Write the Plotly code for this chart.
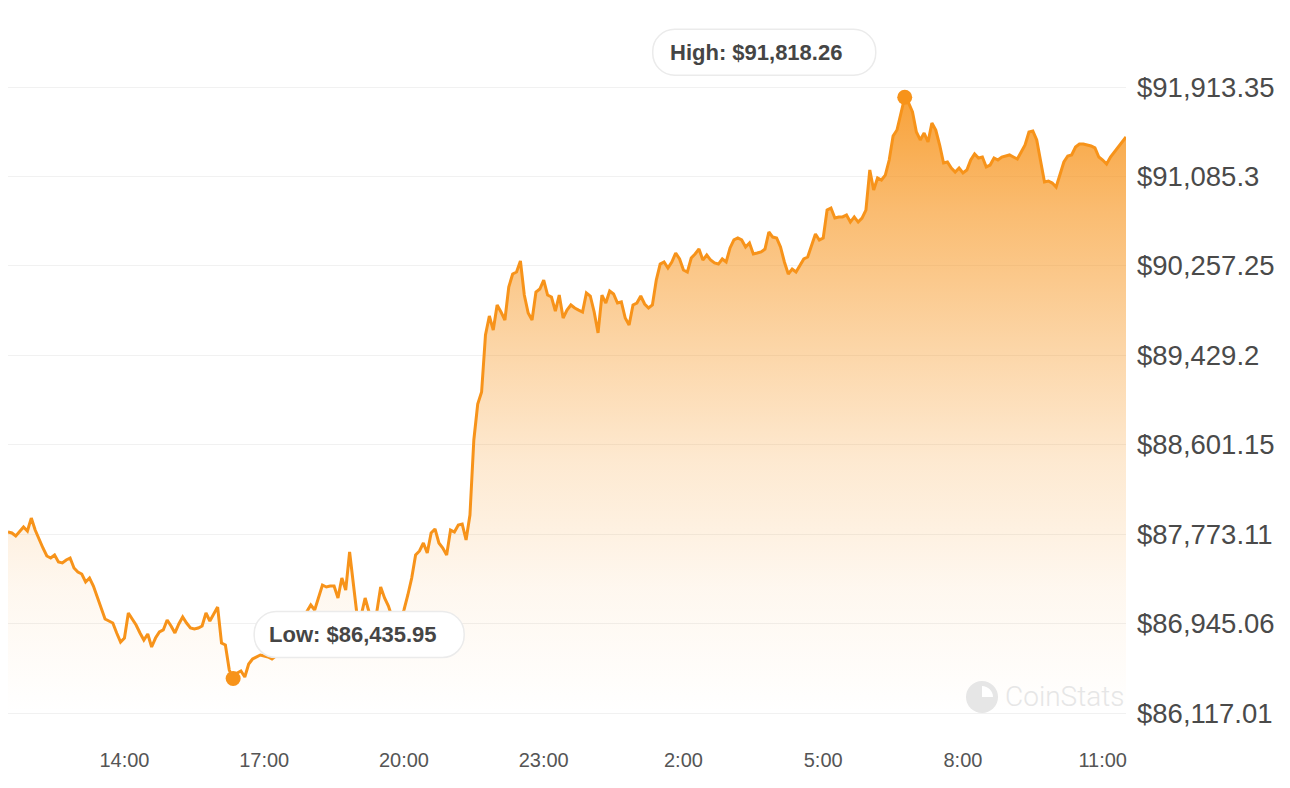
import pandas as pd
import plotly.graph_objects as go

# ---------------- data ----------------
start_time = "2025-03-03 11:30"
step_minutes = 5

prices = [
    87793, 87784, 87756, 87793, 87839, 87802, 87922, 87811, 87719, 87645,
    87571, 87552, 87580, 87515, 87506, 87534, 87552, 87460, 87423, 87404,
    87330, 87367, 87293, 87191, 87089, 86987, 86969, 86950, 86858, 86774,
    86811, 87043, 86987, 86932, 86858, 86793, 86848, 86728, 86811, 86867,
    86886, 86978, 86923, 86858, 86941, 87006, 86950, 86904, 86895, 86904,
    86923, 87043, 86969, 87034, 87098, 86765, 86747, 86515, 86435.95, 86487,
    86506, 86450, 86571, 86617, 86636, 86654, 86645, 86636, 86617, 86645,
    86700, 86737, 86793, 86830, 86886, 86932, 86997, 87052, 87117, 87071,
    87182, 87302, 87284, 87293, 87293, 87182, 87367, 87256, 87608, 87302,
    86997, 87024, 87182, 87052, 86997, 87052, 87284, 87182, 87108, 86997,
    86932, 86978, 87071, 87210, 87367, 87580, 87617, 87691, 87598, 87784,
    87821, 87691, 87645, 87580, 87811, 87793, 87858, 87867, 87719, 87950,
    88645, 88978, 89089, 89617, 89793, 89663, 89895, 89830, 89756, 90061,
    90182, 90200, 90302, 89987, 89821, 89756, 90015, 90043, 90126, 89987,
    89969, 89839, 89987, 89774, 89848, 89895, 89867, 89848, 89830, 90006,
    89978, 89830, 89636, 89987, 89913, 90024, 89997, 89913, 89923, 89774,
    89710, 89895, 89913, 89978, 89904, 89867, 89895, 90126, 90274, 90293,
    90237, 90293, 90376, 90321, 90219, 90200, 90330, 90367, 90413, 90311,
    90358, 90311, 90284, 90274, 90321, 90293, 90423, 90497, 90515, 90497,
    90432, 90469, 90367, 90376, 90386, 90413, 90571, 90524, 90515, 90432,
    90293, 90182, 90228, 90200, 90265, 90321, 90339, 90450, 90552, 90497,
    90515, 90774, 90793, 90700, 90710, 90710, 90728, 90663, 90710, 90663,
    90700, 90774, 91145, 90960, 91071, 91052, 91098, 91237, 91460, 91515,
    91682, 91818.26, 91765, 91682, 91497, 91423, 91487, 91404, 91580, 91515,
    91376, 91210, 91219, 91163, 91126, 91163, 91117, 91145, 91237, 91293,
    91256, 91265, 91173, 91191, 91256, 91237, 91265, 91274, 91284, 91265,
    91247, 91312, 91376, 91497, 91506, 91423, 91237, 91034, 91043, 91024,
    90987, 91098, 91219, 91274, 91284, 91358, 91386, 91386, 91376, 91367,
    91349, 91265, 91237, 91200, 91265, 91312, 91358, 91395, 91450,
]

y_tick_values = [86117.01, 86945.06, 87773.11, 88601.15, 89429.2,
                 90257.25, 91085.3, 91913.35]
y_tick_labels = ["$86,117.01", "$86,945.06", "$87,773.11", "$88,601.15",
                 "$89,429.2", "$90,257.25", "$91,085.3", "$91,913.35"]

x_tick_times = ["2025-03-03 14:00", "2025-03-03 17:00", "2025-03-03 20:00",
                "2025-03-03 23:00", "2025-03-04 02:00", "2025-03-04 05:00",
                "2025-03-04 08:00", "2025-03-04 11:00"]
x_tick_labels = ["14:00", "17:00", "20:00", "23:00", "2:00", "5:00",
                 "8:00", "11:00"]

# ---------------- derived ----------------
times = pd.date_range(start_time, periods=len(prices), freq=f"{step_minutes}min")
s = pd.Series(prices, index=times)
t_high, v_high = s.idxmax(), s.max()
t_low, v_low = s.idxmin(), s.min()

# small padding so the edge gridlines are kept by plotly
y_pad = (y_tick_values[-1] - y_tick_values[0]) / 7 * 2 / 89.4
y_lo, y_hi = y_tick_values[0] - y_pad, y_tick_values[-1] + y_pad


def x_paper(t):
    return (t - times[0]) / (times[-1] - times[0])


def y_paper(v):
    return (v - y_lo) / (y_hi - y_lo)


ORANGE = "#F7931A"
ORANGE_RGB = "247,147,26"

fig = go.Figure()

fig.add_trace(go.Scatter(
    x=times, y=prices, mode="lines",
    line=dict(color=ORANGE, width=3),
    fill="tozeroy",
    fillgradient=dict(
        type="vertical",
        start=y_tick_values[0], stop=y_tick_values[-1],
        colorscale=[
            [0.0, f"rgba({ORANGE_RGB},0.0)"],
            [0.2, f"rgba({ORANGE_RGB},0.07)"],
            [0.4, f"rgba({ORANGE_RGB},0.2)"],
            [0.6, f"rgba({ORANGE_RGB},0.4)"],
            [0.8, f"rgba({ORANGE_RGB},0.62)"],
            [1.0, f"rgba({ORANGE_RGB},0.88)"],
        ],
    ),
    hoverinfo="skip",
))

fig.add_trace(go.Scatter(
    x=[t_high, t_low], y=[v_high, v_low], mode="markers",
    marker=dict(color=ORANGE, size=15),
    cliponaxis=False, hoverinfo="skip",
))


def pill(x0, x1, y0, y1, r):
    k = 0.5523 * r
    return (f"M{x0+r},{y0} L{x1-r},{y0} "
            f"C{x1-r+k},{y0} {x1},{y0+r-k} {x1},{y0+r} "
            f"L{x1},{y1-r} C{x1},{y1-r+k} {x1-r+k},{y1} {x1-r},{y1} "
            f"L{x0+r},{y1} C{x0+r-k},{y1} {x0},{y1-r+k} {x0},{y1-r} "
            f"L{x0},{y0+r} C{x0},{y0+r-k} {x0+r-k},{y0} {x0+r},{y0} Z")


box_style = dict(type="path", xref="paper", yref="paper", xsizemode="pixel",
                 ysizemode="pixel", fillcolor="white",
                 line=dict(color="#ebebeb", width=1.5), layer="above")

fig.add_shape(**box_style, xanchor=x_paper(t_high), yanchor=y_paper(v_high),
              path=pill(-252, -29, 22, 68, 22))
fig.add_shape(**box_style, xanchor=x_paper(t_low), yanchor=y_paper(v_low),
              path=pill(21, 231, 21, 67, 22))

label_font = dict(family="Liberation Sans, Arial, sans-serif", size=22,
                  color="#454545", weight="bold")
fig.add_annotation(x=t_high, y=v_high, xref="x", yref="y", showarrow=False,
                   text=f"High: ${v_high:,.2f}", font=label_font,
                   xshift=-149, yshift=45)
fig.add_annotation(x=t_low, y=v_low, xref="x", yref="y", showarrow=False,
                   text=f"Low: ${v_low:,.2f}", font=label_font,
                   xshift=120, yshift=44)

# watermark
wm_y = 0.0286
fig.add_annotation(x=1, y=wm_y, xref="paper", yref="paper",
                   xanchor="right", yanchor="middle", showarrow=False,
                   text="CoinStats",
                   font=dict(family="Roboto, sans-serif", size=28,
                             color="#e6e6e6", weight=300))
fig.add_shape(type="circle", xref="paper", yref="paper", xsizemode="pixel",
              ysizemode="pixel", xanchor=0.8712, yanchor=wm_y,
              x0=-16, x1=16, y0=-16, y1=16, fillcolor="#e6e6e6",
              line=dict(width=0), layer="above")
fig.add_shape(type="path", xref="paper", yref="paper", xsizemode="pixel",
              ysizemode="pixel", xanchor=0.8712, yanchor=wm_y,
              path="M0,0 L0,11 C6,11 11,6 11,0 Z", fillcolor="white",
              line=dict(width=0), layer="above")

# the page body adds an 8px offset, so the figure is 8px smaller
fig.update_layout(
    width=1282, height=780,
    margin=dict(l=0, r=164, t=77, b=73),
    paper_bgcolor="white", plot_bgcolor="white",
    showlegend=False,
    font=dict(family="Liberation Sans, Arial, sans-serif"),
    xaxis=dict(
        type="date",
        range=[times[0], times[-1]],
        tickvals=x_tick_times, ticktext=x_tick_labels,
        showgrid=False, zeroline=False, showline=False, ticks="",
        tickfont=dict(size=20, color="#555555"),
        ticklabelstandoff=31,
    ),
    yaxis=dict(
        side="right",
        range=[y_lo, y_hi],
        tickvals=y_tick_values, ticktext=y_tick_labels,
        showgrid=True, gridcolor="#f1f1f1", gridwidth=1,
        zeroline=False, showline=False, ticks="",
        tickfont=dict(size=27.5, color="#4a4a4a"),
        ticklabelstandoff=10,
    ),
)

fig.write_html("out.html")
